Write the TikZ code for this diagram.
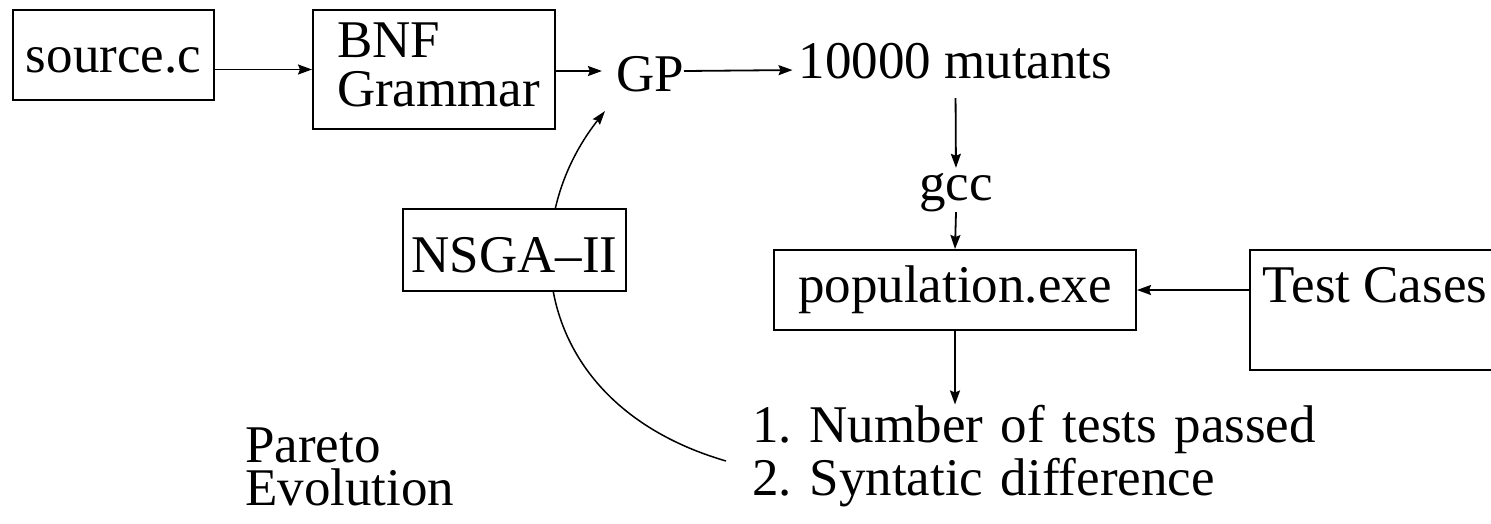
\documentclass[tikz,border=0pt]{standalone}
\usepackage{fontspec}
\setmainfont{Liberation Serif}
\usetikzlibrary{arrows.meta}
\frenchspacing
\tikzset{
  box/.style={draw, line width=2pt, inner sep=0pt, fill=white},
  lbl/.style={inner sep=0pt},
  arr/.style={line width=1.8pt, -{Stealth[length=14pt,width=10pt,inset=2pt]}},
  curv/.style={line width=1.5pt, -{Stealth[length=14pt,width=9pt,inset=2pt]}},
}
\begin{document}
\begin{tikzpicture}[x=1pt,y=-1pt,every node/.style={font=\fontsize{53}{49}\selectfont}]
\useasboundingbox (0,0) rectangle (1491,523);
\clip (0,0) rectangle (1491,523);

% feedback curve (drawn first, hidden behind NSGA-II box)
\coordinate (cs) at (726,461);
\coordinate (ce) at (605,111);
\draw[curv] (cs) .. controls (534,405) and (512,229) .. (ce);

\node[box, minimum width=201pt, minimum height=90pt, text height=37pt, text depth=3pt] (src) at (113.5,55) {source.c};
\node[box, minimum width=242pt, minimum height=119pt, text width=194pt, align=left, text height=37pt, text depth=62pt] (bnf) at (434,69.5) {BNF\\Grammar};
\node[lbl, text height=40pt, text depth=0pt] (gp) at (650,71) {GP};
\node[lbl, text height=26pt, text depth=10pt] (mut) at (955.5,70) {10000 mutants};
\node[lbl, text height=24pt, text depth=12pt] (gcc) at (956,194) {gcc};
\node[box, minimum width=362pt, minimum height=80pt, text height=32pt, text depth=8pt] (pop) at (955,290) {population.exe};
\node[box, inner xsep=13pt, minimum height=120pt, text height=12pt, text depth=28pt] (tc) at (1375,310) {Test Cases};
\node[box, minimum width=223pt, minimum height=82pt, text height=44pt, text depth=0pt] (nsga) at (514.5,250) {NSGA--II};
\node[lbl, anchor=base west, text width=600pt, align=left, font=\fontsize{53}{53}\selectfont] (res) at (752,442) {1. Number of tests passed\\2. Syntatic difference};
\node[lbl, anchor=base west, text width=250pt, align=left, font=\fontsize{53}{43}\selectfont] (par) at (245,462) {Pareto\\Evolution};

\draw[arr] (src.east |- bnf.west) -- (bnf.west);
\draw[arr, shorten >=14pt] (bnf.east |- gp.west) -- (gp.west);
\draw[arr, shorten >=6pt] (gp.east) -- (mut.west);
\draw[arr, shorten <=10pt, shorten >=8pt] (mut.south) -- (gcc.north);
\draw[arr] (gcc.south) -- (pop.north);
\draw[arr] (tc.west |- pop.east) -- (pop.east);
\draw[arr] (pop.south) -- (pop.south |- res.north);
\end{tikzpicture}
\end{document}
